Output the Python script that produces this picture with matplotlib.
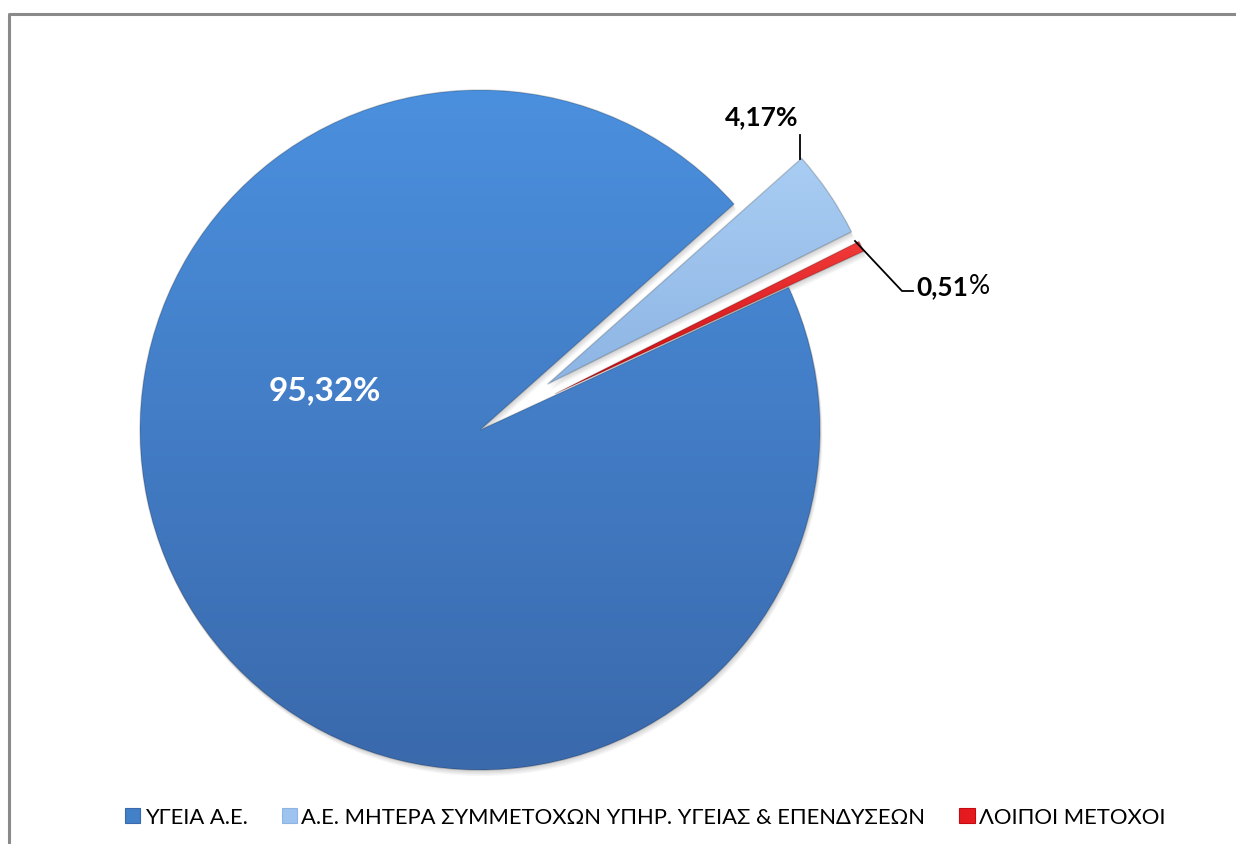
import numpy as np
import matplotlib
matplotlib.use("Agg")
import matplotlib.pyplot as plt
from matplotlib.patches import Patch, Wedge
from matplotlib.lines import Line2D
from matplotlib.colors import LinearSegmentedColormap

# ---- data ----
categories = ["ΥΓΕΙΑ Α.Ε.", "Α.Ε. ΜΗΤΕΡΑ ΣΥΜΜΕΤΟΧΩΝ ΥΠΗΡ. ΥΓΕΙΑΣ & ΕΠΕΝΔΥΣΕΩΝ", "ΛΟΙΠΟΙ ΜΕΤΟΧΟΙ"]
values = [95.32, 4.17, 0.51]
value_labels = ["95,32%", "4,17%", "0,51"]

colors_top = ["#4B90DE", "#A9CDF3", "#F23A3A"]
colors_bot = ["#3A69AC", "#8DB5E4", "#C80A10"]
colors_mid = ["#4280C8", "#9DC3EE", "#E41A1F"]

W, H = 1236, 845
fig = plt.figure(figsize=(W / 100, H / 100), dpi=100)
ax = fig.add_axes([0, 0, 1, 1])

cx, cy, R = 480, H - 431, 340
FONT = ["Lato", "DejaVu Sans"]

wedges, _ = ax.pie(values, center=(cx, cy), radius=R, startangle=24.8,
                   counterclock=False, explode=[0, 0.24 * R, 0.245 * R],
                   colors=colors_mid, frame=True,
                   wedgeprops=dict(linewidth=0))
ax.set_xlim(0, W)
ax.set_ylim(0, H)
ax.set_aspect("equal")
ax.axis("off")

# soft shadow below the slices
for w in wedges:
    for k in range(1, 6):
        s = Wedge((w.center[0] + 0.5 * k, w.center[1] - 1.2 * k), w.r, w.theta1, w.theta2,
                  facecolor=(0, 0, 0, 0.035), edgecolor="none", zorder=0.5)
        ax.add_patch(s)

# gradient fills
for w, ct, cb in zip(wedges, colors_top, colors_bot):
    bb = w.get_path().get_extents(w.get_patch_transform())
    cmap = LinearSegmentedColormap.from_list("g", [cb, ct])
    grad = np.linspace(0, 1, 256).reshape(-1, 1)
    im = ax.imshow(grad, cmap=cmap, origin="lower", aspect="auto",
                   extent=(bb.x0, bb.x1, bb.y0, bb.y1), zorder=w.get_zorder() + 0.1,
                   interpolation="bilinear")
    im.set_clip_path(w)
    w.set_edgecolor((0, 0, 0, 0.18))
    w.set_linewidth(1.0)
    w.set_zorder(w.get_zorder() + 0.2)
    w.set_facecolor("none")
ax.set_xlim(0, W)
ax.set_ylim(0, H)

# labels
ax.text(325, H - 391, value_labels[0], color="white", fontsize=24,
        fontweight="bold", ha="center", va="center", family=FONT)

ax.plot([800, 800], [H - 136, H - 160], color="black", lw=1.3)
ax.text(762, H - 117, value_labels[1], color="black", fontsize=19,
        fontweight="bold", ha="center", va="center", family=FONT)

ax.plot([855, 902, 913], [H - 242, H - 292, H - 292], color="black", lw=1.3)
t = ax.text(916, H - 287, value_labels[2], color="black", fontsize=19,
            fontweight="bold", ha="left", va="center", family=FONT)
fig.canvas.draw()
bbt = t.get_window_extent()
x_px = ax.transData.inverted().transform((bbt.x1, 0))[0]
ax.text(x_px + 1, H - 287, "%", color="black", fontsize=19,
        ha="left", va="center", family=FONT)

# legend
handles = [Patch(facecolor=c, edgecolor=e, linewidth=0.8)
           for c, e in zip(colors_mid, colors_bot)]
leg = ax.legend(handles, categories, loc="center", bbox_to_anchor=(0.522, (H - 818) / H),
                ncol=3, frameon=False, handlelength=0.7, handleheight=0.7,
                handletextpad=0.2, columnspacing=1.55,
                prop=dict(family=FONT, size=15.8))

# border
ax.add_line(Line2D([8.5, 8.5, W], [0, H - 14.5, H - 14.5], color="#8A8A8A", lw=2.2))

fig.savefig("out.png", dpi=100)
